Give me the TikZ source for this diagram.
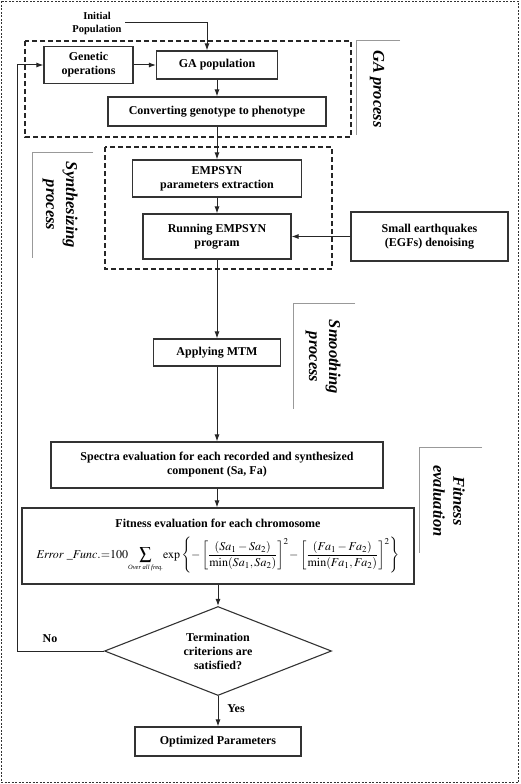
\documentclass[tikz,border=0pt]{standalone}
\usepackage{mathptmx}
\usepackage{fontspec}
\setmainfont{Liberation Serif}
\usetikzlibrary{shapes.geometric,arrows.meta}

\begin{document}
\begin{tikzpicture}[x=1pt,y=-1pt,
		box/.style={draw=black!80,line width=1.1pt,inner sep=2pt,align=center,font=\fontsize{12}{14}\selectfont\bfseries},
		group/.style={draw=black!85,line width=1.2pt,dash pattern=on 5pt off 3pt},
		tag/.style={draw=black!40,line width=1pt},
		tagtext/.style={rotate=-90,align=center,font=\fontsize{16.5}{20}\selectfont\bfseries\itshape},
		flow/.style={-{Latex[length=7pt,width=5pt]},line width=1pt,draw=black!85}]
				\useasboundingbox (0,0) rectangle (520,784);
				\draw[black!80,line width=1.5pt,dash pattern=on 2pt off 1.5pt] (1.5,1.5) rectangle (518.5,782.5);
				
				\draw[group] (25,41) rectangle (351,137);
				\draw[group] (105,147) rectangle (332,269);
				
				\node[font=\fontsize{10.5}{13}\selectfont\bfseries,align=center] (init) at (97,23) {Initial\\Population};
				\node[box,minimum width=89pt,minimum height=37pt] (geno) at (88.5,65) {Genetic\\operations};
				\node[box,minimum width=121pt,minimum height=28pt] (gapop) at (217,65) {GA population};
				\node[box,minimum width=218pt,minimum height=29pt] (conv) at (217,111.5) {Converting genotype to phenotype};
				\node[box,minimum width=169pt,minimum height=37pt] (extr) at (217,178.5) {EMPSYN\\parameters extraction};
				\node[box,minimum width=148pt,minimum height=45pt] (run) at (217,236.5) {Running EMPSYN\\program};
				\node[box,minimum width=157pt,minimum height=49pt] (egf) at (429.5,236.5) {Small earthquakes\\(EGFs) denoising};
				\node[box,minimum width=127pt,minimum height=27pt] (mtm) at (217,352.5) {Applying MTM};
				\node[box,minimum width=332pt,minimum height=46pt] (spec) at (217,465) {Spectra evaluation for each recorded and synthesized\\component (Sa, Fa)};
				\node[box,minimum width=392pt,minimum height=76pt] (fit) at (218,546) {Fitness evaluation for each chromosome\\[9pt]
					\mdseries\fontsize{12}{14}\selectfont$\displaystyle \mathit{Error\ \_Func.}{=}100\!\sum\limits_{\mbox{\fontsize{6.5}{7}\selectfont\itshape Over all freq.}}\!\exp\left\{-\left[\frac{(Sa_1-Sa_2)}{\min(Sa_1,Sa_2)}\right]^2\!-\left[\frac{(Fa_1-Fa_2)}{\min(Fa_1,Fa_2)}\right]^2\right\}$};
				\node[box,diamond,aspect=2.55,inner sep=0pt,minimum width=227pt,minimum height=89pt] (term) at (218,651) {Termination\\criterions are\\satisfied?};
				\node[box,minimum width=166pt,minimum height=29pt] (opt) at (218,741.5) {Optimized Parameters};
				\node[font=\fontsize{12}{14}\selectfont\bfseries] (no) at (50,639) {No};
				\node[font=\fontsize{12}{14}\selectfont\bfseries] (yes) at (236,709) {Yes};
				
				\draw[flow] (init.east) -| ([xshift=-10pt]gapop.north);
				\draw[flow] (geno.east) -- (gapop.west);
				\draw[flow] (gapop) -- (conv);
				\draw[flow] (conv) -- (extr);
				\draw[flow] (extr) -- (run);
				\draw[flow] (egf) -- (run);
				\draw[flow] (run) -- (mtm);
				\draw[flow] (mtm) -- (spec);
				\draw[flow] (spec.south) -- (spec.south |- fit.north);
				\draw[flow] (fit) -- (term);
				\draw[flow] (term) -- (opt);
				\draw[flow] (term.west) -- ++(-86,0) |- (geno.west);
				
				\draw[tag] (400,41) -- (356,41) -- (356,135);
				\node[tagtext] (gatag) at (377,89) {GA process};
				\draw[tag] (93,152) -- (32,152) -- (32,258);
				\node[tagtext] (syntag) at (60,205) {Synthesizing\\process};
				\draw[tag] (355,303) -- (293,303) -- (293,409);
				\node[tagtext] (smotag) at (323,357) {Smoothing\\process};
				\draw[tag] (482,447) -- (419,447) -- (419,553);
				\node[tagtext] (fittag) at (449,501) {Fitness\\evaluation};
			\end{tikzpicture}
\end{document}
